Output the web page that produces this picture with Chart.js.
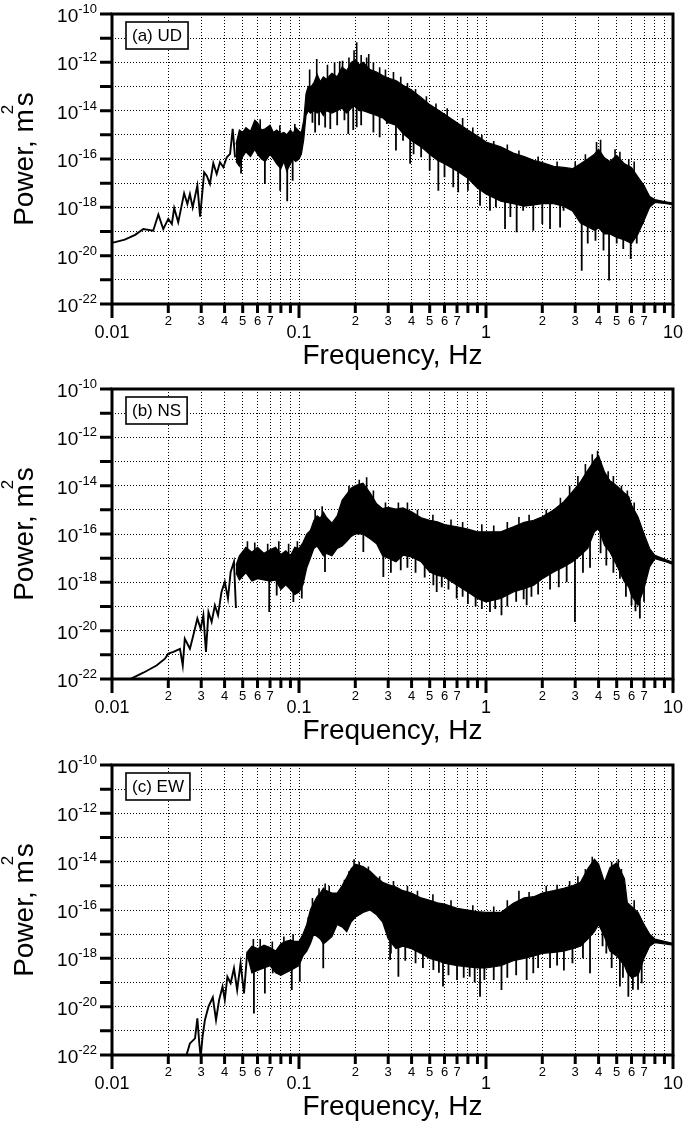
<!DOCTYPE html>
<html>
<head>
<meta charset="utf-8">
<script src="https://cdn.jsdelivr.net/npm/chart.js"></script>
<style>
  body { margin: 0; background: #fff; }
  .panel { position: absolute; left: 0; }
</style>
</head>
<body>
<div class="panel" style="top:0"><canvas id="ud" width="685" height="372"></canvas></div>
<div class="panel" style="top:375px"><canvas id="ns" width="685" height="372"></canvas></div>
<div class="panel" style="top:751px"><canvas id="ew" width="685" height="373"></canvas></div>
<script>
// Achsen
const xTicks = [0.01, 0.02, 0.03, 0.04, 0.05, 0.06, 0.07, 0.08, 0.09,
                0.1, 0.2, 0.3, 0.4, 0.5, 0.6, 0.7, 0.8, 0.9,
                1, 2, 3, 4, 5, 6, 7, 8, 9, 10];
const xMajor = [0.01, 0.1, 1, 10];
const xMajorLabels = ['0.01', '0.1', '1', '10'];
const xMinorLabels = ['2', '3', '4', '5', '6', '7'];
const yDecades = [-22, -21, -20, -19, -18, -17, -16, -15, -14, -13, -12, -11, -10];
const yLabelExps = [-10, -12, -14, -16, -18, -20, -22];
const panelNames = ['(a) UD', '(b) NS', '(c) EW'];

// Werte als Exponenten (log10 der Leistung, m^2 s)

// (a) UD
const udLineF = [0.0100, 0.0117, 0.0133, 0.0147, 0.0166, 0.0177, 0.0188, 0.0200, 0.0209, 0.0215, 0.0226, 0.0243, 0.0253, 0.0261,
                 0.0270, 0.0286, 0.0296, 0.0311, 0.0321, 0.0334, 0.0348, 0.0363, 0.0378, 0.0394, 0.0411, 0.0428, 0.0442, 0.0455];
const udLineP = [-19.47, -19.34, -19.14, -18.9, -18.97, -18.3, -18.9, -18.48, -18.69, -18.03, -18.62, -17.42, -17.86, -17.45,
                 -18.0, -17.1, -18.39, -16.55, -16.69, -17.03, -16.17, -16.62, -16.13, -16.34, -15.93, -15.79, -14.75, -15.93];
const udBandF = [0.046, 0.048, 0.050, 0.052, 0.055, 0.058, 0.060, 0.063, 0.066, 0.070, 0.073, 0.076, 0.080, 0.083, 0.086,
                 0.090, 0.093, 0.096, 0.100, 0.103, 0.106, 0.109, 0.112, 0.115, 0.120, 0.125, 0.13, 0.135, 0.14, 0.15,
                 0.16, 0.17, 0.18, 0.19, 0.20, 0.21, 0.22, 0.24, 0.26, 0.28, 0.30, 0.33, 0.36, 0.40, 0.45,
                 0.50, 0.55, 0.60, 0.70, 0.80, 0.90, 1.0, 1.2, 1.4, 1.6, 1.8, 2.0, 2.3, 2.6, 2.9,
                 3.2, 3.5, 3.8, 4.0, 4.3, 4.6, 5.0, 5.5, 6.0, 6.5, 7.0, 7.5, 8.0, 9.0, 10.0];
const udBandHi = [-15.4, -14.8, -14.9, -14.7, -14.85, -14.4, -14.5, -14.8, -14.75, -14.6, -14.9, -14.8, -14.95, -14.9, -15.0,
                  -14.8, -14.95, -14.7, -14.85, -14.9, -14.4, -13.3, -13.0, -13.05, -12.85, -12.5, -12.8, -12.6, -12.7, -12.45,
                  -12.6, -12.2, -12.35, -12.0, -11.9, -12.1, -12.0, -12.3, -12.4, -12.55, -12.65, -12.75, -12.95, -13.15, -13.45,
                  -13.75, -13.95, -14.15, -14.5, -14.8, -15.05, -15.3, -15.5, -15.75, -15.9, -16.05, -16.15, -16.3, -16.35, -16.4,
                  -16.2, -16.0, -15.8, -15.6, -15.95, -16.1, -15.85, -16.2, -16.35, -16.75, -17.1, -17.55, -17.68, -17.76, -17.83];
const udBandLo = [-16.1, -16.3, -15.9, -15.7, -15.9, -15.6, -15.8, -16.0, -16.1, -15.8, -16.0, -16.2, -16.4, -16.1, -16.5,
                  -16.2, -16.0, -16.1, -16.0, -15.8, -15.2, -14.2, -14.0, -14.1, -14.0, -14.1, -14.0, -14.2, -14.0, -14.1,
                  -14.0, -13.9, -14.1, -13.9, -13.8, -14.0, -14.0, -14.1, -14.2, -14.3, -14.5, -14.6, -14.95, -15.25, -15.5,
                  -15.8, -16.05, -16.2, -16.5, -16.8, -17.2, -17.45, -17.75, -17.85, -17.95, -17.9, -17.85, -17.85, -17.95, -18.15,
                  -18.65, -18.8, -18.95, -18.85, -19.1, -19.1, -19.25, -19.35, -19.5, -19.1, -18.55, -18.0, -17.8, -17.84, -17.89];
const udDownF = [0.049, 0.0657, 0.0793, 0.0865, 0.0925, 0.118, 0.122, 0.128, 0.138, 0.147, 0.16, 0.175, 0.1834, 0.195, 0.2035,
                 0.215, 0.25, 0.27, 0.295, 0.33, 0.36, 0.393, 0.41, 0.45, 0.50, 0.556, 0.60, 0.668, 0.71, 0.80,
                 0.929, 1.05, 1.13, 1.264, 1.35, 1.459, 1.58, 1.79, 2.0, 2.2, 2.49, 2.6, 3.25, 3.5, 3.85,
                 4.25, 4.55, 5.0, 5.42, 5.94, 6.4, 6.9];
const udDownP = [-16.6, -17.03, -17.31, -17.75, -16.9, -14.5, -14.9, -14.6, -14.7, -14.76, -14.6, -14.4, -14.97, -14.8, -14.69,
                 -14.6, -14.9, -15.1, -14.55, -15.65, -15.24, -16.2, -15.8, -15.93, -16.48, -17.31, -16.76, -17.17, -17.38, -17.31,
                 -17.93, -18.14, -18.0, -18.9, -18.4, -19.03, -18.14, -18.97, -18.69, -18.9, -18.83, -18.14, -20.62, -19.5, -19.38,
                 -19.79, -21.03, -19.5, -19.72, -20.14, -19.5, -18.69];
const udUpF = [0.062, 0.079, 0.095, 0.114, 0.1244, 0.142, 0.155, 0.165, 0.171, 0.185, 0.197, 0.2035, 0.215, 0.23, 0.236,
               0.25, 0.27, 0.29, 0.32, 0.35, 0.38, 0.42, 0.48, 0.54, 0.62, 0.75, 0.85, 0.95, 1.1, 1.3,
               1.5, 1.9, 2.4, 3.0, 3.4, 3.9, 4.1, 4.9, 5.2, 5.8, 6.2];
const udUpP = [-14.35, -14.6, -14.55, -12.3, -11.86, -12.1, -12.0, -11.95, -11.93, -11.8, -11.5, -11.17, -11.7, -11.8, -11.65,
               -12.0, -12.2, -12.3, -12.4, -12.6, -12.85, -13.1, -13.4, -13.7, -13.9, -14.3, -14.7, -15.0, -15.25, -15.4,
               -15.65, -15.9, -16.1, -16.1, -15.8, -15.3, -15.2, -15.6, -15.7, -16.0, -16.1];

// (b) NS
const nsLineF = [0.0118, 0.0147, 0.0173, 0.0192, 0.0200, 0.0213, 0.0231, 0.0239, 0.0245, 0.0261, 0.0272, 0.0286, 0.0298,
                 0.0308, 0.0318, 0.0328, 0.0341, 0.0355, 0.0369, 0.0385, 0.0401, 0.0417, 0.0431, 0.0449, 0.0460];
const nsLineP = [-22.1, -21.74, -21.44, -21.16, -20.95, -20.88, -20.75, -21.44, -20.33, -20.75, -20.2, -19.5, -19.92,
                 -19.36, -20.88, -19.23, -19.64, -18.95, -19.36, -18.4, -17.98, -18.67, -17.57, -17.15, -19.06];
const nsBandF = [0.046, 0.048, 0.052, 0.056, 0.060, 0.065, 0.070, 0.075, 0.080, 0.085, 0.090, 0.095, 0.100, 0.105, 0.110,
                 0.115, 0.120, 0.125, 0.13, 0.135, 0.14, 0.15, 0.16, 0.17, 0.18, 0.19, 0.20, 0.22, 0.24, 0.26,
                 0.28, 0.30, 0.33, 0.36, 0.40, 0.45, 0.50, 0.55, 0.60, 0.70, 0.80, 0.90, 1.0, 1.2, 1.4,
                 1.6, 1.8, 2.0, 2.3, 2.6, 2.9, 3.2, 3.5, 3.8, 4.0, 4.3, 4.6, 5.0, 5.5, 5.8,
                 6.0, 6.5, 7.0, 7.5, 8.0, 9.0, 10.0];
const nsBandHi = [-17.3, -16.9, -16.55, -16.75, -16.55, -16.8, -16.65, -16.55, -16.85, -16.7, -16.9, -16.55, -16.6, -16.35, -16.0,
                  -15.85, -15.45, -15.25, -15.35, -15.1, -15.3, -15.55, -15.25, -14.6, -14.35, -14.1, -14.0, -13.9, -14.3, -14.75,
                  -14.95, -14.9, -14.97, -14.92, -15.08, -15.33, -15.43, -15.5, -15.61, -15.7, -15.8, -15.91, -15.91, -15.91, -15.7,
                  -15.52, -15.43, -15.29, -15.01, -14.67, -14.25, -13.84, -13.36, -12.94, -12.76, -13.43, -13.8, -14.0, -14.3, -14.45,
                  -14.8, -15.3, -16.0, -16.6, -16.88, -17.04, -17.18];
const nsBandLo = [-17.6, -17.9, -17.6, -17.95, -17.85, -17.9, -17.95, -17.9, -18.3, -18.1, -18.3, -18.5, -18.4, -18.1, -17.4,
                  -17.0, -16.6, -16.5, -16.7, -16.9, -16.8, -16.9, -16.6, -16.5, -16.3, -16.1, -16.0, -16.0, -16.2, -16.4,
                  -16.9, -17.0, -17.15, -16.88, -16.95, -17.15, -17.57, -17.71, -17.78, -18.12, -18.4, -18.67, -18.81, -18.67, -18.4,
                  -18.26, -18.12, -17.85, -17.57, -17.36, -17.15, -16.88, -16.6, -15.91, -15.77, -16.46, -16.74, -17.29, -17.98, -18.2,
                  -18.54, -18.95, -18.26, -17.36, -17.02, -17.13, -17.26];
const nsDownF = [0.0693, 0.076, 0.0933, 0.1035, 0.1377, 0.2208, 0.2825, 0.31, 0.35, 0.38, 0.42, 0.47, 0.523, 0.545, 0.58,
                 0.63, 0.697, 0.75, 0.80, 0.88, 0.95, 1.05, 1.12, 1.21, 1.3, 1.45, 1.59, 1.65, 1.75, 1.9,
                 2.2, 2.45, 2.7, 2.99, 3.3, 3.6, 4.1, 4.4, 4.8, 5.2, 5.6, 6.0, 6.3, 6.65, 7.0];
const nsDownP = [-19.23, -18.54, -18.81, -18.67, -17.57, -16.74, -17.78, -17.6, -17.5, -17.4, -17.6, -17.8, -18.12, -18.4, -18.2,
                 -18.3, -18.67, -18.6, -18.9, -19.0, -19.1, -19.23, -19.1, -19.36, -19.0, -18.8, -18.7, -18.95, -18.6, -18.5,
                 -18.3, -18.2, -18.0, -19.64, -17.6, -17.4, -16.8, -17.3, -17.6, -17.85, -18.6, -18.95, -19.2, -19.5, -18.8];
const nsUpF = [0.053, 0.058, 0.068, 0.078, 0.088, 0.098, 0.122, 0.133, 0.165, 0.185, 0.21, 0.23, 0.25, 0.29, 0.34,
               0.38, 0.43, 0.52, 0.65, 0.75, 0.95, 1.1, 1.3, 1.5, 1.7, 2.1, 2.5, 2.8, 3.1, 3.4,
               3.7, 3.95, 4.5, 4.8, 5.3, 5.7, 6.2];
const nsUpP = [-16.3, -16.35, -16.4, -16.3, -16.4, -16.3, -15.0, -14.85, -14.9, -14.0, -13.75, -13.65, -14.2, -14.7, -14.7,
               -14.7, -15.0, -15.2, -15.4, -15.5, -15.6, -15.65, -15.5, -15.3, -15.2, -15.0, -14.5, -14.0, -13.6, -13.1,
               -12.7, -12.55, -13.4, -13.6, -14.0, -14.2, -14.7];

// (c) EW
const ewLineF = [0.0248, 0.0261, 0.0278, 0.0286, 0.0293, 0.0298, 0.0305, 0.0314, 0.0328, 0.0346, 0.0360, 0.0374, 0.0390,
                 0.0401, 0.0414, 0.0431, 0.0449, 0.0467, 0.0487, 0.0508, 0.0529];
const ewLineP = [-22.1, -21.52, -21.31, -20.48, -21.52, -22.1, -21.24, -20.55, -20.0, -19.61, -20.55, -19.72, -19.17,
                 -19.72, -18.76, -19.03, -18.41, -19.31, -18.21, -19.45, -17.72];
const ewBandF = [0.053, 0.056, 0.060, 0.065, 0.070, 0.075, 0.080, 0.085, 0.090, 0.095, 0.100, 0.105, 0.110, 0.115, 0.120,
                 0.125, 0.13, 0.135, 0.14, 0.15, 0.16, 0.17, 0.18, 0.19, 0.20, 0.22, 0.24, 0.26, 0.28, 0.30,
                 0.33, 0.36, 0.40, 0.45, 0.50, 0.55, 0.60, 0.70, 0.80, 0.90, 1.0, 1.2, 1.4, 1.6, 1.8,
                 2.0, 2.3, 2.6, 2.9, 3.2, 3.5, 3.8, 4.0, 4.3, 4.6, 5.0, 5.5, 5.7, 6.0, 6.5,
                 7.0, 7.5, 8.0, 9.0, 10.0];
const ewBandHi = [-17.72, -17.5, -17.6, -17.45, -17.55, -17.7, -17.4, -17.3, -17.25, -17.3, -17.3, -17.0, -16.6, -16.0, -15.7,
                  -15.45, -15.3, -15.1, -15.2, -15.3, -15.3, -15.0, -14.65, -14.3, -14.1, -14.2, -14.4, -14.65, -14.85, -14.95,
                  -15.05, -15.2, -15.3, -15.5, -15.6, -15.7, -15.75, -15.93, -16.0, -16.07, -16.1, -16.1, -15.72, -15.5, -15.45,
                  -15.3, -15.2, -15.1, -15.0, -14.85, -14.3, -13.9, -14.1, -14.85, -14.25, -14.05, -14.7, -15.7, -15.85, -16.1,
                  -16.6, -17.0, -17.2, -17.3, -17.38];
const ewBandLo = [-17.9, -18.6, -18.5, -18.4, -18.3, -18.6, -18.7, -18.6, -18.5, -18.4, -18.3, -17.9, -17.7, -17.4, -17.0,
                  -17.1, -17.2, -17.4, -17.3, -17.1, -16.6, -16.7, -16.9, -16.5, -16.3, -16.1, -16.0, -16.2, -16.5, -17.2,
                  -17.6, -17.5, -17.6, -17.8, -18.0, -18.1, -18.2, -18.3, -18.35, -18.4, -18.4, -18.3, -18.1, -18.0, -17.9,
                  -17.8, -17.75, -17.7, -17.6, -17.5, -17.2, -16.9, -16.6, -17.1, -17.7, -17.9, -18.3, -18.6, -18.8, -18.7,
                  -18.0, -17.5, -17.35, -17.4, -17.45];
const ewDownF = [0.0574, 0.0657, 0.0724, 0.0915, 0.101, 0.1348, 0.307, 0.31, 0.34, 0.37, 0.42, 0.46, 0.523, 0.56, 0.589,
                 0.63, 0.70, 0.76, 0.818, 0.87, 0.929, 0.98, 1.1, 1.21, 1.3, 1.45, 1.65, 1.79, 1.9, 2.2,
                 2.4, 2.61, 2.9, 3.3, 3.6, 4.2, 4.4, 4.7, 5.2, 5.4, 5.77, 6.1, 6.5, 6.8];
const ewDownP = [-20.28, -19.45, -18.62, -19.31, -18.97, -18.41, -18.07, -17.8, -18.76, -18.1, -18.2, -18.4, -18.48, -18.6, -19.17,
                 -18.7, -18.9, -18.8, -18.76, -19.0, -19.59, -18.9, -18.9, -19.31, -18.8, -18.7, -18.9, -18.62, -18.4, -18.4,
                 -18.3, -18.5, -18.2, -18.0, -18.62, -17.5, -17.8, -18.4, -19.17, -18.8, -19.59, -19.3, -19.3, -19.03];
const ewUpF = [0.057, 0.062, 0.072, 0.083, 0.093, 0.112, 0.118, 0.128, 0.138, 0.145, 0.175, 0.185, 0.197, 0.21, 0.235,
               0.27, 0.32, 0.38, 0.43, 0.52, 0.65, 0.85, 1.1, 1.3, 1.5, 1.7, 2.1, 2.4, 2.8, 3.1,
               3.4, 3.7, 4.7, 5.1, 5.3, 6.2];
const ewUpP = [-17.2, -17.2, -17.3, -17.1, -17.0, -16.3, -15.5, -15.1, -14.9, -15.0, -14.75, -14.4, -13.9, -14.0, -14.2,
               -14.6, -14.8, -15.0, -15.2, -15.35, -15.6, -15.8, -15.85, -15.6, -15.2, -15.25, -15.0, -14.95, -14.8, -14.6,
               -14.3, -13.8, -14.0, -13.9, -14.3, -15.6];

const FONT = '"Liberation Sans", Arial, Helvetica, sans-serif';

// Punkte aus Frequenz und Exponent
function toPoints(fs, ps) {
    return fs.map((f, i) => ({ x: f, y: 10 ** ps[i] }));
}

// Exponent im Band bei Frequenz f (log-log interpoliert)
function interp(fs, vs, f) {
    const lf = Math.log10(f);
    for (let i = 0; i < fs.length - 1; i++) {
        const a = Math.log10(fs[i]), b = Math.log10(fs[i + 1]);
        if (lf >= a && lf <= b) return vs[i] + (vs[i + 1] - vs[i]) * (lf - a) / (b - a);
    }
    return vs[vs.length - 1];
}

// Spitzen als einzelne senkrechte Striche, von der Bandmitte aus
function spikePoints(bandF, hi, lo, spikeF, spikeP) {
    const pts = [];
    spikeF.forEach((f, i) => {
        const mid = (interp(bandF, hi, f) + interp(bandF, lo, f)) / 2;
        pts.push({ x: f, y: 10 ** mid }, { x: f, y: 10 ** spikeP[i] }, { x: f, y: null });
    });
    return pts;
}

const decor = {
    id: 'decor',
    afterDatasetsDraw(chart) {
        const { ctx, chartArea: a } = chart;
        const name = chart.options.plugins.decor.name;
        ctx.save();
        ctx.font = '17px ' + FONT;
        const w = ctx.measureText(name).width + 12;
        ctx.fillStyle = '#fff';
        ctx.fillRect(126, a.top + 8, w, 27);
        ctx.strokeStyle = '#000';
        ctx.lineWidth = 1.6;
        ctx.strokeRect(126, a.top + 8, w, 27);
        ctx.fillStyle = '#000';
        ctx.textBaseline = 'middle';
        ctx.fillText(name, 132, a.top + 22);
        ctx.restore();
    },
    afterDraw(chart) {
        const { ctx, chartArea: a, scales: { x, y } } = chart;
        ctx.save();
        ctx.strokeStyle = '#000';
        ctx.fillStyle = '#000';
        ctx.lineWidth = 3;
        ctx.strokeRect(a.left, a.top, a.right - a.left, a.bottom - a.top);

        // Teilstriche
        ctx.beginPath();
        yDecades.forEach(e => {
            const py = y.getPixelForValue(10 ** e);
            ctx.moveTo(a.left - 12, py);
            ctx.lineTo(a.left, py);
        });
        xTicks.forEach(v => {
            const px = x.getPixelForValue(v);
            ctx.moveTo(px, a.bottom);
            ctx.lineTo(px, a.bottom + (xMajor.includes(v) ? 14 : 9));
        });
        ctx.stroke();

        // y-Beschriftung 10^n
        ctx.textAlign = 'right';
        ctx.textBaseline = 'alphabetic';
        yLabelExps.forEach(e => {
            const py = y.getPixelForValue(10 ** e);
            ctx.font = '13px ' + FONT;
            const sup = String(e);
            const sw = ctx.measureText(sup).width;
            ctx.fillText(sup, 97, py - 1);
            ctx.font = '19px ' + FONT;
            ctx.fillText('10', 97 - sw, py + 8);
        });

        // x-Beschriftung
        ctx.textAlign = 'center';
        ctx.textBaseline = 'middle';
        xTicks.forEach(v => {
            const px = x.getPixelForValue(v);
            const mi = xMajor.indexOf(v);
            if (mi >= 0) {
                ctx.font = '18px ' + FONT;
                ctx.fillText(xMajorLabels[mi], px, a.bottom + 29);
            } else {
                const d = String(Math.round(v / 10 ** Math.floor(Math.log10(v) + 1e-9)));
                if (xMinorLabels.includes(d)) {
                    ctx.font = '13px ' + FONT;
                    ctx.fillText(d, px, a.bottom + 17);
                }
            }
        });

        // Achsentitel
        ctx.font = '28px ' + FONT;
        ctx.fillText('Frequency, Hz', (a.left + a.right) / 2, a.bottom + 52);

        ctx.translate(33, (a.top + a.bottom) / 2);
        ctx.rotate(-Math.PI / 2);
        ctx.textAlign = 'left';
        ctx.textBaseline = 'alphabetic';
        ctx.font = '28px ' + FONT;
        const w1 = ctx.measureText('Power, m').width;
        const w3 = ctx.measureText('s').width;
        const x0 = -(w1 + 3 + w3) / 2;
        ctx.fillText('Power, m', x0, 0);
        ctx.fillText('s', x0 + w1 + 3, 0);
        ctx.font = '17px ' + FONT;
        ctx.fillText('2', x0 + w1 - 5, -20);
        ctx.restore();
    }
};

function makeChart(id, name, lineF, lineP, bandF, bandHi, bandLo, downF, downP, upF, upP) {
    const line = { borderColor: '#000', pointRadius: 0, fill: false };
    new Chart(document.getElementById(id), {
        type: 'line',
        data: {
            datasets: [
                { ...line, data: toPoints(bandF, bandHi), borderWidth: 1.2, backgroundColor: '#000', fill: '+1' },
                { ...line, data: toPoints(bandF, bandLo), borderWidth: 1.2 },
                { ...line, data: toPoints(lineF, lineP), borderWidth: 1.9 },
                { ...line, data: spikePoints(bandF, bandHi, bandLo, downF, downP), borderWidth: 1.8, spanGaps: false },
                { ...line, data: spikePoints(bandF, bandHi, bandLo, upF, upP), borderWidth: 1.6, spanGaps: false }
            ]
        },
        options: {
            responsive: false,
            animation: false,
            layout: { padding: { top: 14, right: 12, left: 0, bottom: 0 } },
            plugins: { legend: { display: false }, tooltip: { enabled: false }, decor: { name: name } },
            scales: {
                x: {
                    type: 'logarithmic', min: 0.01, max: 10,
                    afterBuildTicks: s => { s.ticks = xTicks.map(v => ({ value: v })); },
                    afterFit: s => { s.height = s.chart.height - 14 - 290; },
                    ticks: { display: false },
                    grid: { color: '#000', lineWidth: 1, drawTicks: false },
                    border: { display: false, dash: [1, 2] }
                },
                y: {
                    type: 'logarithmic', min: 1e-22, max: 1e-10,
                    afterBuildTicks: s => { s.ticks = yDecades.map(e => ({ value: 10 ** e })); },
                    afterFit: s => { s.width = 112; },
                    ticks: { display: false },
                    grid: { color: '#000', lineWidth: 1, drawTicks: false },
                    border: { display: false, dash: [1, 2] }
                }
            }
        },
        plugins: [decor]
    });
}

makeChart('ud', panelNames[0], udLineF, udLineP, udBandF, udBandHi, udBandLo, udDownF, udDownP, udUpF, udUpP);
makeChart('ns', panelNames[1], nsLineF, nsLineP, nsBandF, nsBandHi, nsBandLo, nsDownF, nsDownP, nsUpF, nsUpP);
makeChart('ew', panelNames[2], ewLineF, ewLineP, ewBandF, ewBandHi, ewBandLo, ewDownF, ewDownP, ewUpF, ewUpP);
</script>
</body>
</html>
